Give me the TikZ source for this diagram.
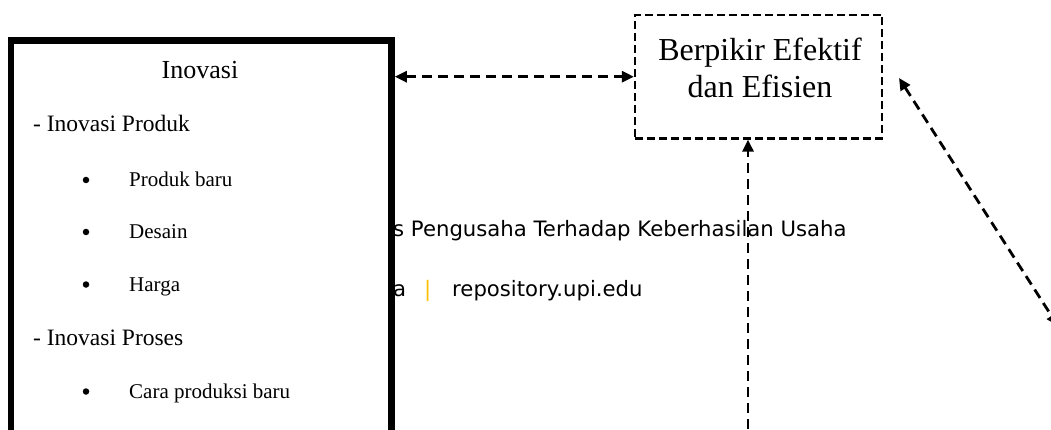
\documentclass[tikz,border=0pt]{standalone}
\usepackage{fontspec}
\setmainfont{Liberation Serif}
\newfontfamily\wmfont{DejaVu Sans}
\usetikzlibrary{arrows.meta}
\definecolor{barorange}{HTML}{FFC000}

\begin{document}
\begin{tikzpicture}[x=1pt,y=-1pt,
  biconn/.style={line width=2.8pt, dash pattern=on 10pt off 6pt, {Triangle[length=12pt,width=11pt]}-{Triangle[length=12pt,width=11pt]}},
  uniconn/.style={line width=2.8pt, dash pattern=on 10pt off 6pt, -{Triangle[length=12pt,width=11pt]}},
  txt/.style={inner sep=0pt, anchor=base west},
  wm/.style={inner sep=0pt, anchor=base west, font=\wmfont\fontsize{21.2}{25}\selectfont, text=black},
  dot/.style={circle, fill=black, inner sep=0pt, minimum size=6.5pt},
  thickbox/.style={draw, line width=6.5pt, fill=white, minimum width=380.5pt, minimum height=429.5pt, inner sep=0pt},
  dashbox/.style={draw, line width=2.3pt, dash pattern=on 8pt off 4pt, minimum width=247pt, minimum height=123.5pt, inner sep=0pt}
]
\useasboundingbox[fill=white] (0,0) rectangle (1051,430);

% footer text lying behind the frame
\node[wm] (wm1) at (393,236.5) {s Pengusaha Terhadap Keberhasilan Usaha};
\node[wm] (wm2) at (393,296) {a};
\node[wm, text=barorange] (wmbar) at (424,296) {|};
\node[wm] (wm3) at (452,296) {repository.upi.edu};

% Inovasi frame
\node[thickbox] (inov) at (201.25,255.25) {};
\node[inner sep=0pt, anchor=base, font=\fontsize{26}{30}\selectfont] (ttl) at (200,78.3) {Inovasi};
\node[txt, font=\fontsize{23.5}{28}\selectfont] (h1) at (33,131.7) {- Inovasi Produk};
\node[dot] (d1) at (86,180) {};
\node[txt, font=\fontsize{21}{25}\selectfont] (i1) at (129,186.7) {Produk baru};
\node[dot] (d2) at (86,232) {};
\node[txt, font=\fontsize{21}{25}\selectfont] (i2) at (129,238.5) {Desain};
\node[dot] (d3) at (86,284.5) {};
\node[txt, font=\fontsize{21}{25}\selectfont] (i3) at (129,291) {Harga};
\node[txt, font=\fontsize{23.5}{28}\selectfont] (h2) at (33,345) {- Inovasi Proses};
\node[dot] (d4) at (86,391.5) {};
\node[txt, font=\fontsize{21}{25}\selectfont] (i4) at (129,398.3) {Cara produksi baru};

% Berpikir box
\node[dashbox] (berp) at (758.5,76.7) {};
\node[inner sep=0pt, align=center, font=\fontsize{32}{36.5}\selectfont] (berptxt) at (760,68) {Berpikir Efektif\\dan Efisien};

% connectors
\coordinate (vbot) at (748,445);
\coordinate (dtop) at (899,78);
\coordinate (dbot) at (1058,326);
\draw[biconn] (inov.east |- berp.west) -- (berp.west);
\draw[uniconn] (vbot) -- (vbot |- berp.south);
\draw[biconn] (dtop) -- (dbot);
\end{tikzpicture}
\end{document}
